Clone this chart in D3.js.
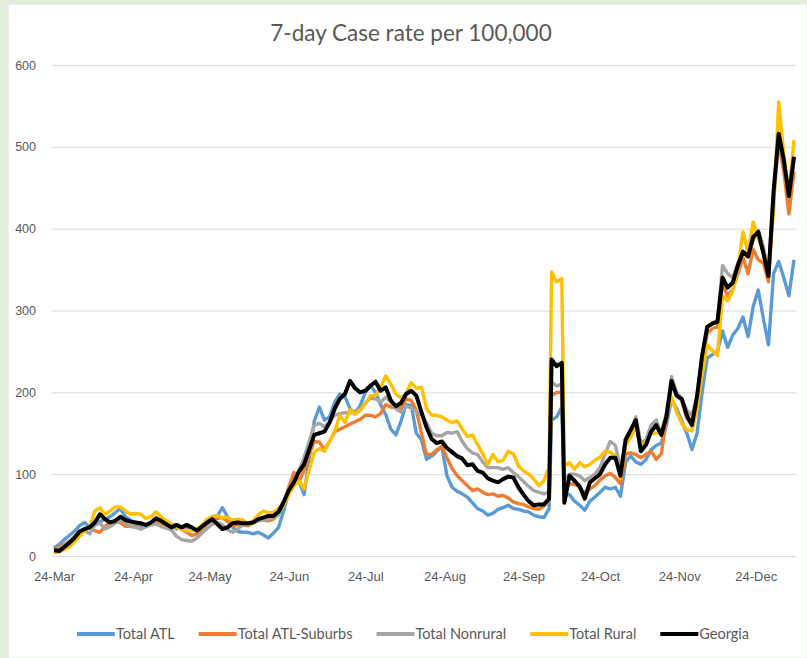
<!DOCTYPE html>
<meta charset="utf-8">
<head>
    <title>7-day Case rate per 100,000</title>
    <script src="https://cdn.jsdelivr.net/npm/d3@7"></script>
</head>

<style>
body { margin: 0; background: #e4ecdc; }
svg { display: block; font-family: Lato, "Open Sans", sans-serif; }
.grid line { stroke: #d9d9d9; stroke-width: 1; }
.tick text { fill: #595959; }
</style>

<body>

<svg></svg>

<script>

// day offsets from the first date (24-Mar-2020)
let startDate = "2020-03-24";
let endDate = "2021-01-08";
let days = [0,2,4,6,8,10,12,14,16,18,
  20,22,24,26,28,30,32,34,36,38,
  40,42,44,46,48,50,52,54,56,58,
  60,62,64,66,68,70,72,74,76,78,
  80,82,84,86,88,90,92,94,96,98,
  100,102,104,106,108,110,112,114,116,118,
  120,122,124,126,128,130,132,134,136,138,
  140,142,144,146,148,150,152,154,156,158,
  160,162,164,166,168,170,172,174,176,178,
  180,182,184,186,188,190,192,194,
  195,197,199,
  200,202,204,206,208,210,212,214,216,218,
  220,222,224,226,228,230,232,234,236,238,
  240,242,244,246,248,250,252,254,256,258,
  260,262,264,266,268,270,272,274,276,278,
  280,282,284,286,288,290];

let totalATL = [10,14,20,25,30,37,41,35,41,42,
  45,48,53,58,48,44,40,37,38,40,
  43,38,37,39,33,35,34,33,33,36,
  44,48,49,59,48,35,30,29,29,27,
  29,26,22,28,35,55,78,92,92,75,
  120,165,182,166,170,188,198,195,180,174,
  184,200,208,200,185,173,155,148,165,185,
  184,150,142,118,122,128,134,98,84,79,
  76,72,65,58,55,50,52,57,59,62,
  58,57,55,54,50,48,47,58,
  166,170,182,
  75,75,67,62,56,67,72,78,84,82,
  84,73,115,122,115,112,118,130,135,138,
  160,192,180,165,150,130,150,200,242,246,
  250,275,255,270,278,292,268,305,325,290,
  258,345,360,340,318,362];

let totalSuburbs = [8,11,14,18,22,28,32,35,31,29,
  36,42,42,41,36,37,36,33,36,39,
  41,39,37,38,37,33,29,25,27,31,
  40,43,46,47,42,37,38,38,37,41,
  43,44,43,45,52,64,84,102,90,105,
  124,140,139,130,140,152,155,158,161,164,
  167,172,172,170,174,185,182,181,180,192,
  190,178,150,124,124,130,134,120,107,98,
  92,86,80,82,78,75,76,73,74,71,
  66,64,63,60,58,57,61,68,
  196,200,200,
  85,88,88,84,77,82,86,93,98,101,
  96,88,125,126,124,120,124,128,118,125,
  168,210,196,190,168,160,185,238,272,278,
  280,332,318,326,345,365,345,375,362,358,
  335,440,505,470,418,470];

let totalNonrural = [7,9,13,18,24,27,31,27,38,40,
  33,36,40,45,40,36,35,33,36,38,
  39,36,34,32,24,20,19,18,22,28,
  34,39,41,38,32,29,33,38,39,41,
  43,44,45,47,50,62,80,92,105,120,
  140,160,162,158,164,172,174,175,175,177,
  179,187,193,192,188,194,188,180,176,183,
  181,177,172,163,150,147,147,151,150,152,
  140,131,126,124,115,108,108,108,106,108,
  102,97,91,85,80,78,76,78,
  212,208,210,
  95,100,100,98,92,96,100,108,125,140,
  135,108,135,150,170,138,142,160,166,150,
  175,219,200,192,178,172,195,245,280,285,
  288,355,345,340,358,370,368,385,398,378,
  345,450,512,480,440,485];

let totalRural = [4,5,8,11,17,24,31,35,55,59,
  51,55,60,60,55,51,52,51,46,48,
  54,48,43,39,35,33,31,31,33,38,
  45,48,49,47,47,44,45,44,39,43,
  50,55,53,53,58,62,75,86,92,82,
  105,127,131,128,140,152,172,163,179,173,
  178,186,196,196,206,220,210,198,193,199,
  212,205,206,180,172,172,170,166,163,165,
  155,146,148,136,125,112,124,115,117,128,
  125,110,104,100,94,86,92,108,
  347,335,339,
  110,114,106,114,109,112,117,121,128,127,
  122,95,135,145,158,135,139,150,150,152,
  170,194,176,162,154,153,180,222,258,251,
  245,318,312,324,352,396,370,408,388,372,
  350,420,555,490,443,508];

let georgia = [7,6,11,16,22,30,33,35,41,51,
  45,41,43,48,44,42,41,40,38,41,
  46,43,39,35,38,35,38,35,31,36,
  41,45,39,33,35,40,41,40,40,41,
  45,47,49,49,54,66,80,90,103,112,
  130,148,150,152,163,180,192,198,214,205,
  200,202,208,213,202,206,190,183,187,198,
  202,196,176,157,143,138,140,132,127,122,
  119,111,112,104,102,95,92,90,94,97,
  96,84,75,67,62,63,63,70,
  240,232,236,
  65,98,92,85,70,90,95,100,112,120,
  120,98,142,154,166,128,136,152,160,148,
  170,214,196,192,172,160,195,245,280,284,
  286,340,328,334,355,372,366,390,396,370,
  342,445,516,484,440,488];

let seriesNames = ["Total ATL", "Total ATL-Suburbs", "Total Nonrural", "Total Rural", "Georgia"];
let seriesValues = [totalATL, totalSuburbs, totalNonrural, totalRural, georgia];
let colors = ["#5b9bd5", "#ed7d31", "#a5a5a5", "#ffc000", "#000000"];

let yTicks = [0, 100, 200, 300, 400, 500, 600];
let xTickDates = ["2020-03-24", "2020-04-24", "2020-05-24", "2020-06-24", "2020-07-24",
  "2020-08-24", "2020-09-24", "2020-10-24", "2020-11-24", "2020-12-24"];

let parse = d3.timeParse("%Y-%m-%d");
let start = parse(startDate);

let width = 807, height = 658;

let svg = d3.select("svg")
    .attr("width", width)
    .attr("height", height);

// white chart panel
svg.append("rect")
    .attr("x", 8).attr("y", 4)
    .attr("width", width - 8).attr("height", height - 4)
    .attr("fill", "#ffffff")
    .attr("stroke", "#dfe6da");

let x = d3.scaleTime()
    .domain([start, parse(endDate)])
    .range([54, 794]);

let y = d3.scaleLinear()
    .domain([0, 600])
    .range([556, 65]);

// title
svg.append("text")
    .attr("x", 411)
    .attr("y", 41)
    .attr("text-anchor", "middle")
    .attr("fill", "#595959")
    .style("font-size", "22.5px")
    .text("7-day Case rate per 100,000");

// y axis with gridlines across the plot
let yAxis = svg.append("g")
    .attr("class", "grid")
    .attr("transform", "translate(796,0)")
    .call(d3.axisLeft(y).tickValues(yTicks).tickSize(744).tickPadding(16));
yAxis.select(".domain").remove();
yAxis.selectAll("text")
    .style("font-size", "12.5px");

// x axis labels
let xAxis = svg.append("g")
    .attr("transform", "translate(0,569)")
    .call(d3.axisBottom(x)
      .tickValues(xTickDates.map(parse))
      .tickSize(0)
      .tickFormat(d3.timeFormat("%d-%b")));
xAxis.select(".domain").remove();
xAxis.selectAll("text")
    .style("font-size", "13px");

let line = d3.line()
    .x(function(d) { return x(d.date); })
    .y(function(d) { return y(d.value); });

seriesValues.forEach((vals, i) => {
  let pts = vals.map((v, j) => ({date: d3.timeDay.offset(start, days[j]), value: v}));
  svg.append("path")
      .datum(pts)
      .attr("fill", "none")
      .attr("stroke", colors[i])
      .attr("stroke-width", i == 4 ? 4 : 3.4)
      .attr("stroke-linejoin", "round")
      .attr("d", line);
});

// legend
let legend = svg.append("g");
let items = seriesNames.map((name, i) => {
  let g = legend.append("g");
  g.append("line")
    .attr("x1", 0).attr("x2", 38)
    .attr("y1", 0).attr("y2", 0)
    .attr("stroke", colors[i])
    .attr("stroke-width", 3.8);
  let t = g.append("text")
    .attr("x", 39)
    .attr("dy", "0.35em")
    .attr("fill", "#595959")
    .style("font-size", "14.5px")
    .text(name);
  return {g: g, w: 39 + t.node().getComputedTextLength()};
});
let gap = 24;
let total = d3.sum(items, d => d.w) + gap * (items.length - 1);
let lx = 413 - total / 2;
items.forEach(it => {
  it.g.attr("transform", "translate(" + lx + ",634)");
  lx += it.w + gap;
});

</script>

</body>
